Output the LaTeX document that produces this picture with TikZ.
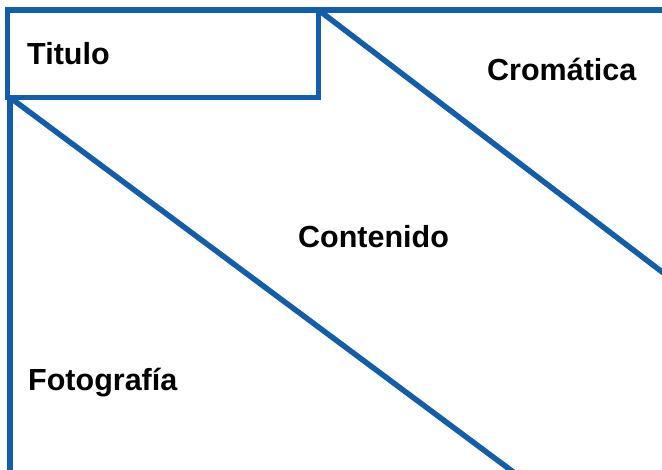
\documentclass[tikz,border=0pt]{standalone}
\usepackage{fontspec}
\setmainfont{Liberation Sans}
\definecolor{lineblue}{RGB}{18,94,170}
\begin{document}
\begin{tikzpicture}[x=1pt,y=-1pt,
  edge/.style={draw=lineblue,line width=5.5pt},
  label/.style={anchor=base west,inner sep=0pt,font=\fontsize{30.5}{33}\selectfont\bfseries,text=black}]
\useasboundingbox (0,0) rectangle (662,470);
\clip (0,0) rectangle (662,470);
\coordinate (tl) at (7.5,10);
\coordinate (tr) at (318.5,97.5);
\coordinate (topright) at (680,10);
\coordinate (boxtop) at (318.5,10);
\coordinate (left) at (10,97.5);
\coordinate (leftbottom) at (10,480);
\coordinate (d1end) at (691,294);
\coordinate (d2end) at (524,480);
\draw[edge] (tl) rectangle (tr);
\draw[edge] (5,10) -- (topright);
\draw[edge,line cap=butt] (left) -- (leftbottom);
\draw[edge] (boxtop) -- (d1end);
\draw[edge] (left) -- (d2end);
\node[label] (titulo) at (27,65) {Titulo};
\node[label] (cromatica) at (487,81) {Cromática};
\node[label] (contenido) at (298,248) {Contenido};
\node[label] (fotografia) at (28,391) {Fotografía};
\end{tikzpicture}
\end{document}
